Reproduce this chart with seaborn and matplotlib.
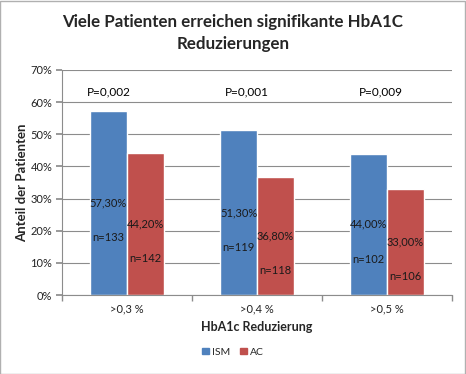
import numpy as np
import pandas as pd
import seaborn as sns
import matplotlib.pyplot as plt
from matplotlib.ticker import FixedLocator, PercentFormatter
from matplotlib.patches import Rectangle

# Werte aus der Vorlage
kategorien = ['>0,3 %', '>0,4 %', '>0,5 %']
gruppen = ['ISM', 'AC']
ism_werte = [57.3, 51.3, 44.0]
ac_werte = [44.2, 36.8, 33.0]
ism_n = [133, 119, 102]
ac_n = [142, 118, 106]
p_werte = ['P=0,002', 'P=0,001', 'P=0,009']

farben = ['#4F81BD', '#C0504D']
gitter = '#8C8C8C'

df = pd.DataFrame({
    'Reduzierung': kategorien * 2,
    'Gruppe': [gruppen[0]] * 3 + [gruppen[1]] * 3,
    'Anteil': ism_werte + ac_werte,
})
n_werte = {gruppen[0]: ism_n, gruppen[1]: ac_n}

sns.set_theme(style='white')
plt.rcParams['font.family'] = ['Lato', 'DejaVu Sans']

fig = plt.figure(figsize=(4.66, 3.74), dpi=100)
ax = fig.add_axes([0.133, 0.211, 0.837, 0.602])

sns.barplot(data=df, x='Reduzierung', y='Anteil', hue='Gruppe',
            palette=farben, saturation=1, width=0.57, ax=ax,
            legend=False)

# Beschriftungen in den Balken
for gruppe, cont in zip(gruppen, ax.containers):
    for bar, n in zip(cont, n_werte[gruppe]):
        xm = bar.get_x() + bar.get_width() / 2
        h = bar.get_height()
        ax.text(xm, h / 2, f'{h:.2f}%'.replace('.', ','), ha='center',
                va='center', fontsize=8, color='#1a1a1a')
        ax.annotate(f'n={n}', (xm, h / 2), xytext=(0, -25),
                    textcoords='offset points', ha='center', va='center',
                    fontsize=8, color='#1a1a1a')

# p-Werte ueber den Gruppen
p_versatz = [-0.14, -0.08, -0.05]
for i, (p, dx) in enumerate(zip(p_werte, p_versatz)):
    ax.text(i + dx, 63.2, p, ha='center', va='center', fontsize=8.5,
            color='black')

ax.set_ylim(0, 70)
ax.set_xlim(-0.5, 2.5)
ax.set_yticks(np.arange(0, 71, 10))
ax.yaxis.set_major_formatter(PercentFormatter(decimals=0))
ax.grid(axis='y', color=gitter, linewidth=0.8)
ax.set_axisbelow(True)
for s in ['top', 'right']:
    ax.spines[s].set_visible(False)
for s in ['left', 'bottom']:
    ax.spines[s].set_color(gitter)
    ax.spines[s].set_linewidth(0.8)
ax.tick_params(axis='y', left=True, length=4, color=gitter, labelsize=8,
               labelcolor='#222222', pad=3)
ax.tick_params(axis='x', which='major', length=0, labelsize=8,
               labelcolor='#222222', pad=6)
ax.xaxis.set_minor_locator(FixedLocator([-0.5, 0.5, 1.5, 2.5]))
ax.tick_params(axis='x', which='minor', bottom=True, length=4,
               color=gitter)

ax.set_xlabel('HbA1c Reduzierung', fontsize=9, fontweight='bold', labelpad=5)
ax.set_ylabel('Anteil der Patienten', fontsize=9.5, fontweight='bold',
              labelpad=2)

fig.suptitle('Viele Patienten erreichen signifikante HbA1C\nReduzierungen',
             y=0.962, fontsize=12.2, fontweight='bold', linespacing=1.45)

handles = [Rectangle((0, 0), 1, 1, color=c) for c in farben]
fig.legend(handles, gruppen, loc='center', bbox_to_anchor=(0.5, 0.058),
           ncol=2, frameon=False, fontsize=7.5, handlelength=0.6,
           handleheight=0.6, handletextpad=0.3, columnspacing=1.0)

fig.patches.append(Rectangle((0.001, 0.001), 0.997, 0.997,
                             transform=fig.transFigure, fill=False,
                             edgecolor='#b0b0b0', linewidth=1))

fig.savefig('out.png', dpi=100)
